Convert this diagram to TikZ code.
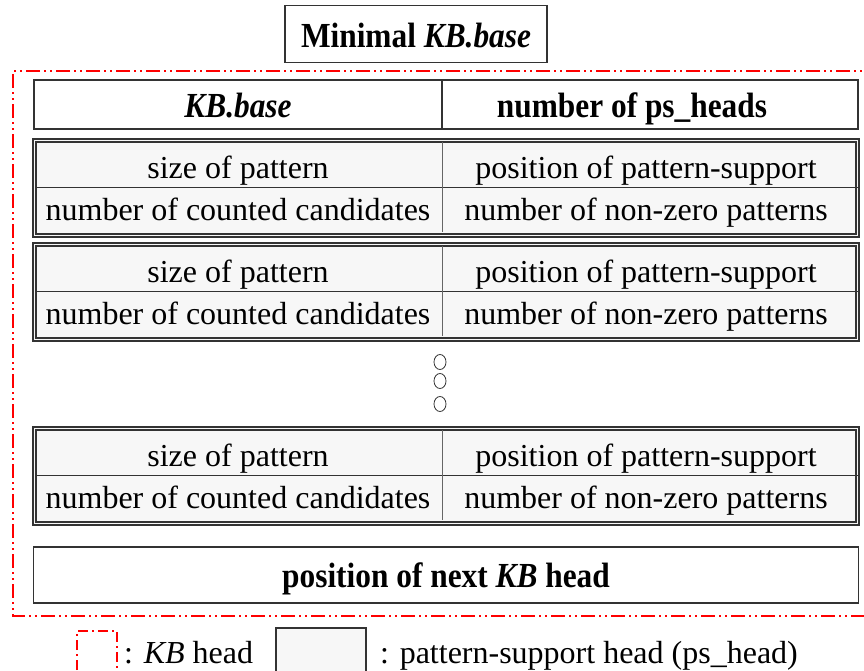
\documentclass[tikz,border=0pt]{standalone}
\usepackage{fontspec}
\usepackage{graphicx}
\setmainfont{Liberation Serif}
\newcommand{\tallbold}[1]{\scalebox{0.98}[1.1]{\bfseries #1}}
\begin{document}
\begin{tikzpicture}[x=1pt,y=-1pt,
  txt/.style={inner sep=0pt,font=\fontsize{32}{38}\selectfont},
  btxt/.style={inner sep=0pt,font=\fontsize{32}{38}\selectfont},
  boxline/.style={draw=black!80,line width=1.2pt},
  kbframe/.style={draw=red,line width=2.2pt,dash pattern=on 14pt off 4pt on 2pt off 4pt on 2pt off 4pt},
  cellfill/.style={fill=black!3},
]
\useasboundingbox (0,0) rectangle (864,670);
\clip (0,0) rectangle (864,670);

% title
\node[boxline,fill=white,minimum width=262pt,minimum height=57pt,inner sep=0pt] (title) at (416,34) {};
\node[btxt,anchor=base] (titletxt) at (416,47) {\tallbold{Minimal \textit{KB.base}}};

% KB head frame (continues past the right edge)
\draw[kbframe] (880,71) -- (13,71) -- (13,616) -- (880,616);

% header row
\node[boxline,fill=white,minimum width=824pt,minimum height=49pt,inner sep=0pt] (hdr) at (446,104.5) {};
\draw[boxline] (442,80) -- (442,129);
\node[btxt,anchor=base] (hdrL) at (238,117) {\tallbold{\textit{KB.base}}};
\node[btxt,anchor=base] (hdrR) at (632,117) {\tallbold{number of ps\_heads}};

% ps_head groups
\foreach \name/\top in {g1/139,g2/243,g3/427}{
  \begin{scope}[shift={(0,\top)}]
    \draw[boxline,cellfill] (33,0) rectangle (859,98);
    \draw[boxline] (36,3) rectangle (856,95);
    \draw[draw=black!80,line width=1pt] (36,48) -- (859,48);
    \draw[draw=black!60,line width=1pt] (442,3) -- (442,93);
    \node[txt,anchor=base] (\name a) at (238,39) {size of pattern};
    \node[txt,anchor=base] (\name b) at (646,39) {position of pattern-support};
    \node[txt,anchor=base] (\name c) at (238,81) {number of counted candidates};
    \node[txt,anchor=base] (\name d) at (646,81) {number of non-zero patterns};
  \end{scope}
}

% continuation marks
\foreach \yy in {362,381,404}{
  \draw[draw=black!80,line width=0.8pt] (440,\yy) ellipse [x radius=6pt,y radius=7.5pt];
}

% next KB head pointer
\node[boxline,fill=white,minimum width=825pt,minimum height=56pt,inner sep=0pt] (next) at (446,575) {};
\node[btxt,anchor=base] (nexttxt) at (446,587) {\tallbold{position of next \textit{KB} head}};

% legend
\draw[kbframe,line width=1.6pt,dash pattern=on 10pt off 4pt on 2pt off 4pt] (77,690) -- (77,631) -- (117,631) -- (117,690);
\node[txt,anchor=base west] (kbleg) at (124,663) {: \textit{KB} head};
\draw[boxline,cellfill] (276,628) rectangle (366,690);
\node[txt,anchor=base west] (psleg) at (380,663) {: pattern-support head (ps\_head)};
\end{tikzpicture}
\end{document}
